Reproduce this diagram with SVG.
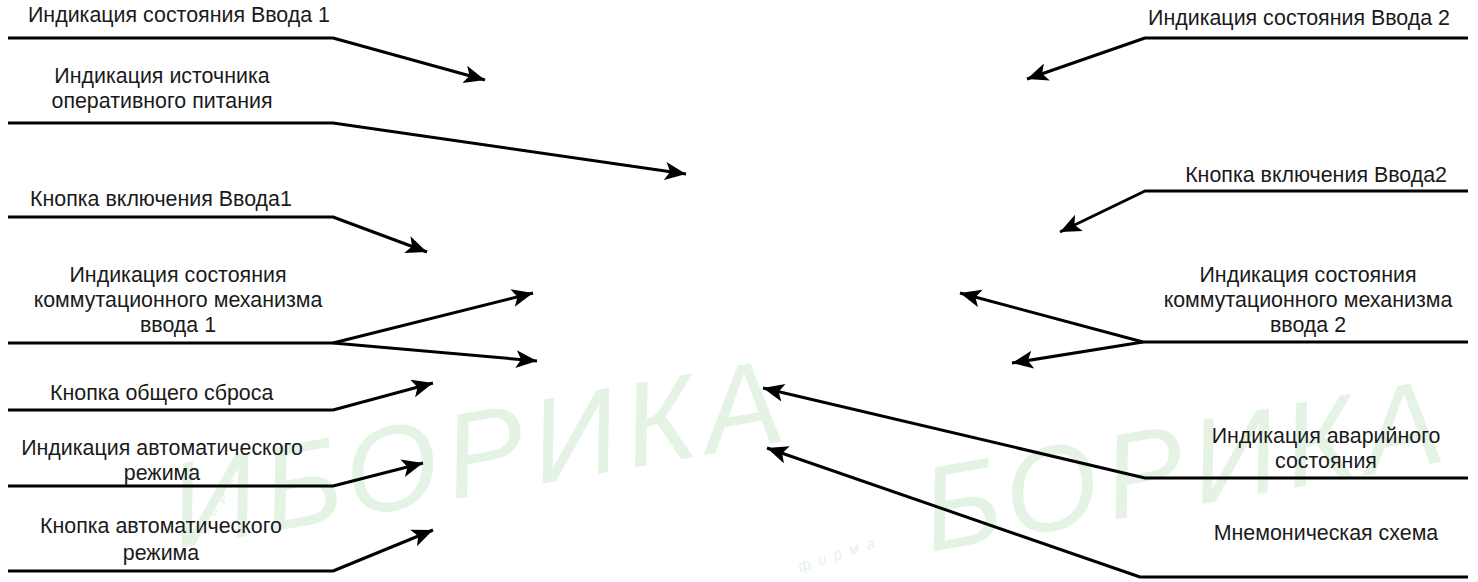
<svg xmlns="http://www.w3.org/2000/svg" width="1478" height="582" viewBox="0 0 1478 582">
  <style>
    .lbl { font-family: "Liberation Sans", Arial, sans-serif; font-size: 21.4px; fill: #1a1a1a; }
    .mid { text-anchor: middle; }
    .end { text-anchor: end; }
    .con { fill: none; stroke: #000; stroke-width: 3; stroke-linejoin: round; marker-end: url(#arr); }
    .wm { font-family: "Liberation Sans", Arial, sans-serif; font-style: italic; fill: #e5f3e5; }
  </style>
  <defs>
    <marker id="arr" markerUnits="userSpaceOnUse" markerWidth="24" markerHeight="20" refX="21" refY="9" orient="auto">
      <path d="M0,0 L21,9 L0,18 L5,9 Z" fill="#000"/>
    </marker>
  </defs>
  <rect width="1478" height="582" fill="#fff"/>

  <g id="watermark">
    <text class="wm" font-size="120" letter-spacing="8" transform="translate(178,548) rotate(-10)">ИБОРИКА</text>
    <text class="wm" font-size="120" letter-spacing="8" transform="translate(930,552) rotate(-10)">БОРИКА</text>
    <text class="wm" font-size="15" letter-spacing="8" transform="translate(205,535) rotate(-62)">фирма</text>
    <text class="wm" font-size="15" letter-spacing="8" transform="translate(800,572) rotate(-18)">фирма</text>
  </g>

  <g id="connectors">
    <path class="con" d="M8,38 H333 L485,80"/>
    <path class="con" d="M8,123 H333 L686,174"/>
    <path class="con" d="M8,217 H333 L427,252"/>
    <path class="con" d="M8,343 H333 L533,293"/>
    <path class="con" d="M333,343 L537,361"/>
    <path class="con" d="M8,410 H333 L433,383"/>
    <path class="con" d="M8,486 H333 L423,463"/>
    <path class="con" d="M8,571 H333 L433,530"/>
    <path class="con" d="M1468,38 H1145 L1027,79"/>
    <path class="con" d="M1468,191 H1145 L1060,232"/>
    <path class="con" d="M1468,342 H1143 L960,293"/>
    <path class="con" d="M1143,342 L1012,363"/>
    <path class="con" d="M1468,478 H1145 L763,388"/>
    <path class="con" d="M1468,577 H1140 L767,448"/>
  </g>

  <g id="n-input1-state"><text class="lbl" x="28" y="22">Индикация состояния Ввода 1</text></g>
  <g id="n-power-source">
    <text class="lbl mid" x="162" y="83">Индикация источника</text>
    <text class="lbl mid" x="162" y="108">оперативного питания</text>
  </g>
  <g id="n-input1-button"><text class="lbl" x="30" y="206">Кнопка включения Ввода1</text></g>
  <g id="n-switch1-state">
    <text class="lbl mid" x="178" y="282">Индикация состояния</text>
    <text class="lbl mid" x="178" y="307">коммутационного механизма</text>
    <text class="lbl mid" x="178" y="332">ввода 1</text>
  </g>
  <g id="n-reset"><text class="lbl" x="50" y="400">Кнопка общего сброса</text></g>
  <g id="n-auto-ind">
    <text class="lbl mid" x="162" y="455">Индикация автоматического</text>
    <text class="lbl mid" x="162" y="480">режима</text>
  </g>
  <g id="n-auto-btn">
    <text class="lbl mid" x="161" y="533">Кнопка автоматического</text>
    <text class="lbl mid" x="161" y="560">режима</text>
  </g>

  <g id="n-input2-state"><text class="lbl end" x="1450" y="25">Индикация состояния Ввода 2</text></g>
  <g id="n-input2-button"><text class="lbl end" x="1447" y="182">Кнопка включения Ввода2</text></g>
  <g id="n-switch2-state">
    <text class="lbl mid" x="1308" y="282">Индикация состояния</text>
    <text class="lbl mid" x="1308" y="307">коммутационного механизма</text>
    <text class="lbl mid" x="1308" y="332">ввода 2</text>
  </g>
  <g id="n-alarm">
    <text class="lbl mid" x="1326" y="443">Индикация аварийного</text>
    <text class="lbl mid" x="1326" y="468">состояния</text>
  </g>
  <g id="n-mimic"><text class="lbl mid" x="1326" y="540">Мнемоническая схема</text></g>
</svg>
